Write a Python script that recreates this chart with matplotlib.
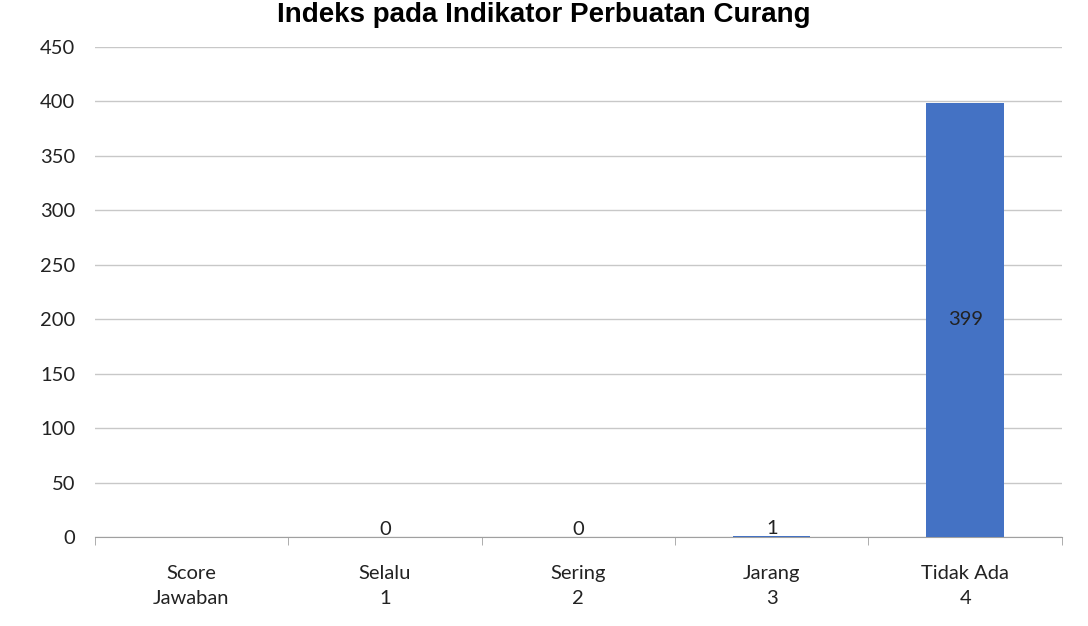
import numpy as np
import matplotlib.pyplot as plt
from matplotlib.ticker import MultipleLocator, FixedLocator

categories = ['Score\nJawaban', 'Selalu\n1', 'Sering\n2', 'Jarang\n3', 'Tidak Ada\n4']
values = [np.nan, 0, 0, 1, 399]
title = 'Indeks pada Indikator Perbuatan Curang'

plt.rcParams['font.family'] = ['Lato', 'DejaVu Sans']

fig = plt.figure(figsize=(10.88, 6.26), dpi=100)
ax = fig.add_axes([0.087, 0.142, 0.889, 0.783])

x = np.arange(len(categories))
ax.bar(x, values, width=0.4, color='#4472C4', zorder=3)

for xi, v in zip(x, values):
    if np.isnan(v):
        continue
    if v > 50:
        ax.text(xi, v / 2, f'{v:g}', ha='center', va='center', fontsize=14.5, color='#222222', zorder=4)
    else:
        ax.annotate(f'{v:g}', (xi, v), xytext=(0, -1), textcoords='offset points',
                    ha='center', va='bottom', fontsize=14.5, color='#222222', zorder=4)

ax.set_xlim(-0.5, len(categories) - 0.5)
ax.set_ylim(0, 450)
ax.yaxis.set_major_locator(MultipleLocator(50))
ax.grid(axis='y', color='#c8c8c8', linewidth=1, zorder=0)

ax.set_xticks(x)
ax.set_xticklabels(categories, fontsize=14.5, color='#222222', linespacing=1.6)
ax.xaxis.set_minor_locator(FixedLocator(np.arange(-0.5, len(categories), 1)))
ax.tick_params(axis='x', which='major', length=0, pad=20)
ax.tick_params(axis='x', which='minor', length=6, color='#a0a0a0')
ax.tick_params(axis='y', length=0, labelsize=14.5, labelcolor='#222222', pad=14)

for s in ['top', 'right', 'left']:
    ax.spines[s].set_visible(False)
ax.spines['bottom'].set_color('#a0a0a0')

fig.text(0.50, 0.997, title, ha='center', va='top', fontsize=20,
         fontweight='bold', family=['Liberation Sans', 'DejaVu Sans'])

fig.savefig('out.png', dpi=100)
